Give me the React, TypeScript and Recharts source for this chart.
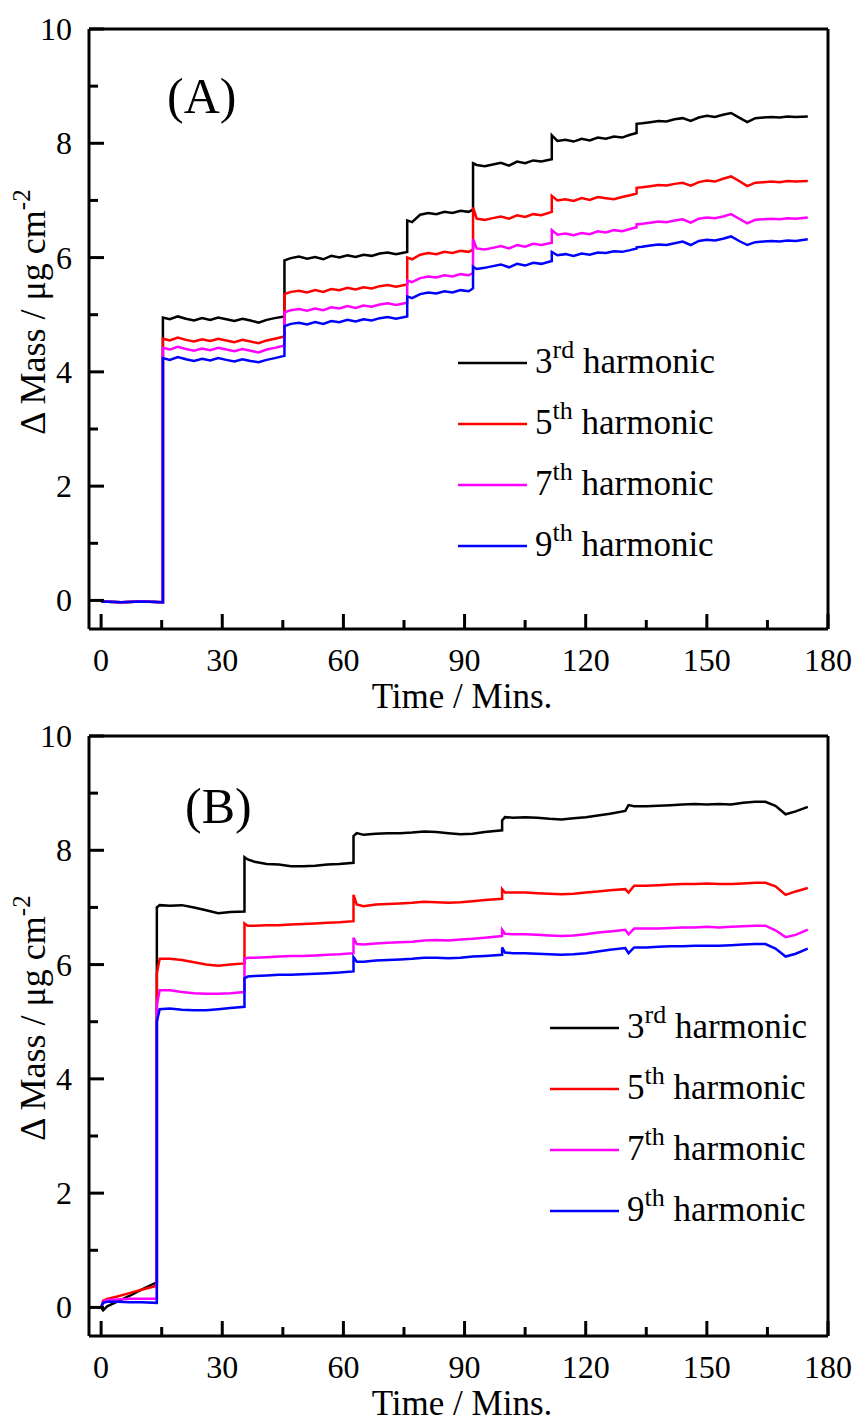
import React from 'react'
import { LineChart, Line, XAxis, YAxis, ReferenceLine, Legend } from 'recharts'

// panel A: time grid (repeated times are the vertical steps)
const TIME_A = [
  0, 5, 10, 15.3,
  15.3, 17, 19, 21, 23, 25, 27, 29, 31, 33, 35, 37, 39, 41, 43, 45.4,
  45.4, 47, 49, 51, 53, 55, 57, 59, 61, 63, 65, 67, 69, 71, 73, 75.8,
  75.8, 77, 79, 81, 83, 85, 87, 89, 91, 92.1,
  92.1, 93, 95, 97, 99, 101, 103, 105, 107, 109, 111.6,
  111.6, 113, 115, 117, 119, 121, 123, 125, 127, 129, 131, 132.6,
  132.6, 134, 136, 138, 140, 142, 144, 146, 148, 150, 152, 154, 156, 158, 160, 162, 164, 166, 168, 170, 172, 175,
]

const A_3RD = [
  -0.02, -0.03, -0.02, -0.03,
  4.95, 4.92, 4.97, 4.93, 4.9, 4.94, 4.91, 4.95, 4.92, 4.89, 4.93, 4.9, 4.86, 4.91, 4.94, 4.97,
  5.95, 5.99, 6.02, 5.98, 6.01, 5.97, 6.03, 6.0, 6.04, 6.01, 6.05, 6.03, 6.07, 6.09, 6.06, 6.1,
  6.65, 6.62, 6.75, 6.78, 6.76, 6.8, 6.78, 6.82, 6.8, 6.84,
  7.65, 7.62, 7.6, 7.63, 7.66, 7.61, 7.68, 7.65, 7.7, 7.68, 7.72,
  8.14, 8.04, 8.06, 8.03, 8.08, 8.05, 8.1, 8.08, 8.12, 8.1, 8.15, 8.18,
  8.34, 8.35, 8.37, 8.39, 8.38, 8.42, 8.44, 8.39, 8.45, 8.48, 8.46, 8.5, 8.53, 8.45, 8.37, 8.44, 8.45, 8.46, 8.45, 8.47, 8.46, 8.47,
]

const A_5TH = [
  -0.02, -0.03, -0.02, -0.03,
  4.58, 4.55, 4.6, 4.56, 4.53, 4.57, 4.54, 4.58, 4.55, 4.52, 4.56, 4.53, 4.5, 4.55, 4.58, 4.62,
  5.36, 5.4, 5.42, 5.39, 5.43, 5.4, 5.45, 5.43, 5.47, 5.44, 5.48, 5.46, 5.5, 5.52, 5.49, 5.53,
  6.0, 5.97, 6.05, 6.08, 6.06, 6.1, 6.08, 6.12, 6.1, 6.14,
  6.88, 6.68, 6.66, 6.69, 6.72, 6.68, 6.74, 6.71, 6.76, 6.74, 6.8,
  7.08, 7.0, 7.02, 6.99, 7.04, 7.01, 7.06, 7.04, 7.02, 7.06, 7.09, 7.12,
  7.22, 7.23, 7.25, 7.27, 7.26, 7.29, 7.31, 7.26, 7.32, 7.35, 7.33, 7.38, 7.42, 7.34, 7.25, 7.31, 7.32, 7.33, 7.32, 7.34, 7.33, 7.34,
]

const A_7TH = [
  -0.02, -0.03, -0.02, -0.03,
  4.42, 4.39, 4.44, 4.4, 4.37, 4.41, 4.38, 4.42, 4.39, 4.36, 4.4, 4.37, 4.34, 4.39, 4.42, 4.46,
  5.04, 5.08, 5.1, 5.07, 5.11, 5.08, 5.13, 5.11, 5.15, 5.12, 5.16, 5.14, 5.18, 5.2, 5.17, 5.21,
  5.6, 5.57, 5.64, 5.67, 5.65, 5.69, 5.67, 5.71, 5.69, 5.73,
  6.32, 6.16, 6.14, 6.17, 6.2, 6.16, 6.22, 6.19, 6.24, 6.22, 6.26,
  6.48, 6.4, 6.42, 6.39, 6.43, 6.41, 6.46, 6.44, 6.48, 6.46, 6.5, 6.53,
  6.58, 6.59, 6.61, 6.63, 6.62, 6.65, 6.67, 6.61, 6.68, 6.7, 6.69, 6.72, 6.76, 6.68, 6.6, 6.66, 6.67, 6.68, 6.67, 6.69, 6.68, 6.7,
]

const A_9TH = [
  -0.02, -0.03, -0.02, -0.03,
  4.24, 4.21, 4.26, 4.22, 4.19, 4.23, 4.2, 4.24, 4.21, 4.18, 4.22, 4.19, 4.17, 4.21, 4.24, 4.28,
  4.8, 4.84, 4.86, 4.83, 4.87, 4.84, 4.89, 4.87, 4.91, 4.88, 4.92, 4.9, 4.94, 4.96, 4.93, 4.97,
  5.32, 5.29, 5.36, 5.39, 5.37, 5.41, 5.39, 5.43, 5.41, 5.46,
  5.84, 5.8, 5.82, 5.85, 5.88, 5.83, 5.89, 5.86, 5.91, 5.89, 5.94,
  6.1, 6.04, 6.06, 6.03, 6.07, 6.05, 6.09, 6.08, 6.11, 6.1, 6.13, 6.16,
  6.18, 6.19, 6.21, 6.23, 6.22, 6.25, 6.28, 6.22, 6.29, 6.31, 6.3, 6.33, 6.37, 6.29, 6.22, 6.27, 6.28, 6.29, 6.28, 6.3, 6.29, 6.32,
]

// panel B
const TIME_B = [
  0, 0.5, 1.5, 4, 7, 10, 13.8,
  13.8, 14.5, 17, 20, 23, 26, 29, 32, 35.5,
  35.5, 36.3, 38, 41, 44, 47, 50, 53, 56, 59, 62.5,
  62.5, 63.3, 65, 68, 71, 74, 77, 80, 83, 86, 89, 92, 95, 99.3,
  99.3, 100, 102, 105, 108, 111, 114, 117, 120, 123, 126, 129.8, 130.6, 132, 135, 138, 141, 144, 147, 150, 153, 156, 159, 162, 164.5, 167, 169.5, 172, 175,
]

const B_3RD = [
  0, -0.05, 0.02, 0.1, 0.2, 0.31, 0.44,
  7.0, 7.04, 7.03, 7.04, 7.0, 6.95, 6.9, 6.92, 6.93,
  7.88, 7.84, 7.8, 7.76, 7.75, 7.72, 7.72, 7.73, 7.75, 7.76, 7.78,
  8.25, 8.3, 8.27, 8.29, 8.3, 8.3, 8.31, 8.33, 8.32, 8.3, 8.28, 8.29, 8.32, 8.35,
  8.52, 8.58, 8.57, 8.58, 8.57, 8.55, 8.54, 8.56, 8.58, 8.61, 8.64, 8.69, 8.79, 8.77, 8.77, 8.78, 8.79, 8.8, 8.81, 8.8, 8.81, 8.8, 8.83, 8.85, 8.85, 8.78, 8.63, 8.68, 8.76,
]

const B_5TH = [
  0, 0.12, 0.15, 0.19, 0.25, 0.31, 0.38,
  5.85, 6.1, 6.1, 6.08, 6.04, 6.0, 5.98, 6.0, 6.02,
  6.72, 6.68, 6.68, 6.69, 6.69, 6.7, 6.71, 6.72, 6.73, 6.74, 6.76,
  7.22, 7.05, 7.02, 7.05, 7.06, 7.07, 7.08, 7.1, 7.09, 7.08, 7.09, 7.11, 7.13, 7.15,
  7.32, 7.26, 7.26, 7.26, 7.25, 7.24, 7.23, 7.24, 7.26, 7.28, 7.3, 7.32, 7.26, 7.38, 7.38, 7.39, 7.4, 7.41, 7.41, 7.42, 7.41, 7.41, 7.42, 7.43, 7.43, 7.37, 7.22, 7.28, 7.34,
]

const B_7TH = [
  0, 0.1, 0.13, 0.14, 0.15, 0.15, 0.15,
  5.3, 5.55, 5.55, 5.52, 5.5, 5.49, 5.49, 5.5, 5.52,
  6.1, 6.12, 6.12, 6.13, 6.14, 6.15, 6.15, 6.16, 6.17, 6.18, 6.2,
  6.47, 6.36, 6.35, 6.37, 6.38, 6.39, 6.4, 6.42, 6.43, 6.42, 6.44, 6.45, 6.47, 6.5,
  6.61, 6.54, 6.53, 6.53, 6.52, 6.51, 6.5, 6.51, 6.53, 6.56, 6.58, 6.61, 6.53, 6.63, 6.63, 6.63, 6.64, 6.65, 6.65, 6.66, 6.65, 6.66, 6.67, 6.68, 6.68, 6.6, 6.48, 6.52, 6.61,
]

const B_9TH = [
  0, 0.08, 0.1, 0.1, 0.09, 0.09, 0.08,
  5.0, 5.22, 5.23, 5.21, 5.2, 5.2, 5.22, 5.24, 5.26,
  5.76, 5.79, 5.8, 5.81, 5.82, 5.82, 5.83, 5.84, 5.85, 5.86, 5.88,
  6.13, 6.05, 6.05, 6.07, 6.08, 6.09, 6.1, 6.12, 6.12, 6.11, 6.12, 6.14, 6.15, 6.17,
  6.3, 6.21, 6.2, 6.2, 6.19, 6.18, 6.17, 6.18, 6.2, 6.23, 6.26, 6.29, 6.2, 6.3, 6.3, 6.31, 6.32, 6.32, 6.33, 6.33, 6.33, 6.34, 6.35, 6.36, 6.36, 6.28, 6.14, 6.19, 6.28,
]

const X_TICKS = [0, 15, 30, 45, 60, 75, 90, 105, 120, 135, 150, 165, 180]
const Y_TICKS = [0, 1, 2, 3, 4, 5, 6, 7, 8, 9, 10]

const ORDINALS = ['3', '5', '7', '9']
const SUFFIXES = ['rd', 'th', 'th', 'th']
const COLORS = ['#000000', '#ff0000', '#ff00ff', '#0000ff']

const FONT = '"Liberation Serif", "Times New Roman", serif'

const toRows = (time: number[], vals: number[]) => time.map((t, i) => ({ t, v: vals[i] }))

function XTick({ x, y, payload }: any) {
  const v = payload.value
  const major = v % 30 === 0
  return (
    <g>
      <line x1={x} x2={x} y1={y} y2={y - (major ? 15 : 9)} stroke="#000" strokeWidth={3} />
      {major && (
        <text x={x} y={y + 42} textAnchor="middle" fontSize={32} fontFamily={FONT} fill="#000">
          {v}
        </text>
      )}
    </g>
  )
}

function YTick({ x, y, payload }: any) {
  const v = payload.value
  const major = v % 2 === 0
  return (
    <g>
      <line x1={x} x2={x + (major ? 15 : 9)} y1={y} y2={y} stroke="#000" strokeWidth={3} />
      {major && (
        <text x={x - 17} y={y + 11} textAnchor="end" fontSize={32} fontFamily={FONT} fill="#000">
          {v}
        </text>
      )}
    </g>
  )
}

function HarmonicLegend() {
  return (
    <div style={{ fontFamily: FONT, color: '#000' }}>
      {ORDINALS.map((o, i) => (
        <div key={o} style={{ display: 'flex', alignItems: 'center', height: 61 }}>
          <svg width={69} height={6}>
            <line x1={0} x2={69} y1={3} y2={3} stroke={COLORS[i]} strokeWidth={2.5} />
          </svg>
          <span style={{ marginLeft: 8, fontSize: 35, lineHeight: '35px', whiteSpace: 'nowrap' }}>
            {o}
            <span style={{ fontSize: 26, position: 'relative', top: -15 }}>{SUFFIXES[i]}</span> harmonic
          </span>
        </div>
      ))}
    </div>
  )
}

// plot area is 600px tall in both panels; chartH leaves room below for tick labels and title
function Panel({ time, series, tag, tagX, tagY, top, chartH, legendLeft, legendTop, titleY, yTitleY }: any) {
  return (
    <LineChart width={859} height={chartH} margin={{ top, right: 31, bottom: 0, left: 0 }}>
      <XAxis
        dataKey="t"
        type="number"
        domain={[-3, 180]}
        ticks={X_TICKS}
        interval={0}
        allowDataOverflow
        height={chartH - top - 600}
        tickLine={false}
        tickSize={0}
        tickMargin={0}
        axisLine={{ stroke: '#000', strokeWidth: 3 }}
        tick={<XTick />}
      />
      <YAxis
        type="number"
        domain={[-0.5, 10]}
        ticks={Y_TICKS}
        interval={0}
        allowDataOverflow
        width={89}
        tickLine={false}
        tickSize={0}
        tickMargin={0}
        axisLine={{ stroke: '#000', strokeWidth: 3 }}
        tick={<YTick />}
      />
      <ReferenceLine y={10} stroke="#000" strokeWidth={3} />
      <ReferenceLine x={180} stroke="#000" strokeWidth={3} />
      {series.map((vals: number[], i: number) => (
        <Line
          key={i}
          data={toRows(time, vals)}
          dataKey="v"
          stroke={COLORS[i]}
          strokeWidth={2.5}
          dot={false}
          activeDot={false}
          isAnimationActive={false}
        />
      ))}
      <Legend
        layout="vertical"
        align="center"
        verticalAlign="middle"
        content={<HarmonicLegend />}
        wrapperStyle={{ left: legendLeft, top: legendTop, width: 'auto' }}
      />
      <text x={tagX} y={tagY} fontSize={50} fontFamily={FONT} fill="#000">
        {tag}
      </text>
      <text x={462} y={titleY} textAnchor="middle" fontSize={35} fontFamily={FONT} fill="#000">
        Time / Mins.
      </text>
      <text
        x={45}
        y={yTitleY}
        textAnchor="middle"
        fontSize={36}
        fontFamily={FONT}
        fill="#000"
        transform={`rotate(-90, 45, ${yTitleY})`}
      >
        {'\u0394 Mass / \u03bcg cm'}
        <tspan dy={-15} fontSize={25}>-2</tspan>
      </text>
    </LineChart>
  )
}

export default function App() {
  return (
    <div style={{ position: 'absolute', left: 0, top: 0, width: 859, height: 1426, background: '#fff' }}>
      <div style={{ position: 'absolute', left: 0, top: 0 }}>
        <Panel
          time={TIME_A}
          series={[A_3RD, A_5TH, A_7TH, A_9TH]}
          tag="(A)"
          tagX={167}
          tagY={113}
          top={29}
          chartH={720}
          legendLeft={458}
          legendTop={332}
          titleY={708}
          yTitleY={312}
        />
      </div>
      <div style={{ position: 'absolute', left: 0, top: 713 }}>
        <Panel
          time={TIME_B}
          series={[B_3RD, B_5TH, B_7TH, B_9TH]}
          tag="(B)"
          tagX={185}
          tagY={110}
          top={23}
          chartH={713}
          legendLeft={550}
          legendTop={284}
          titleY={702}
          yTitleY={305}
        />
      </div>
    </div>
  )
}
